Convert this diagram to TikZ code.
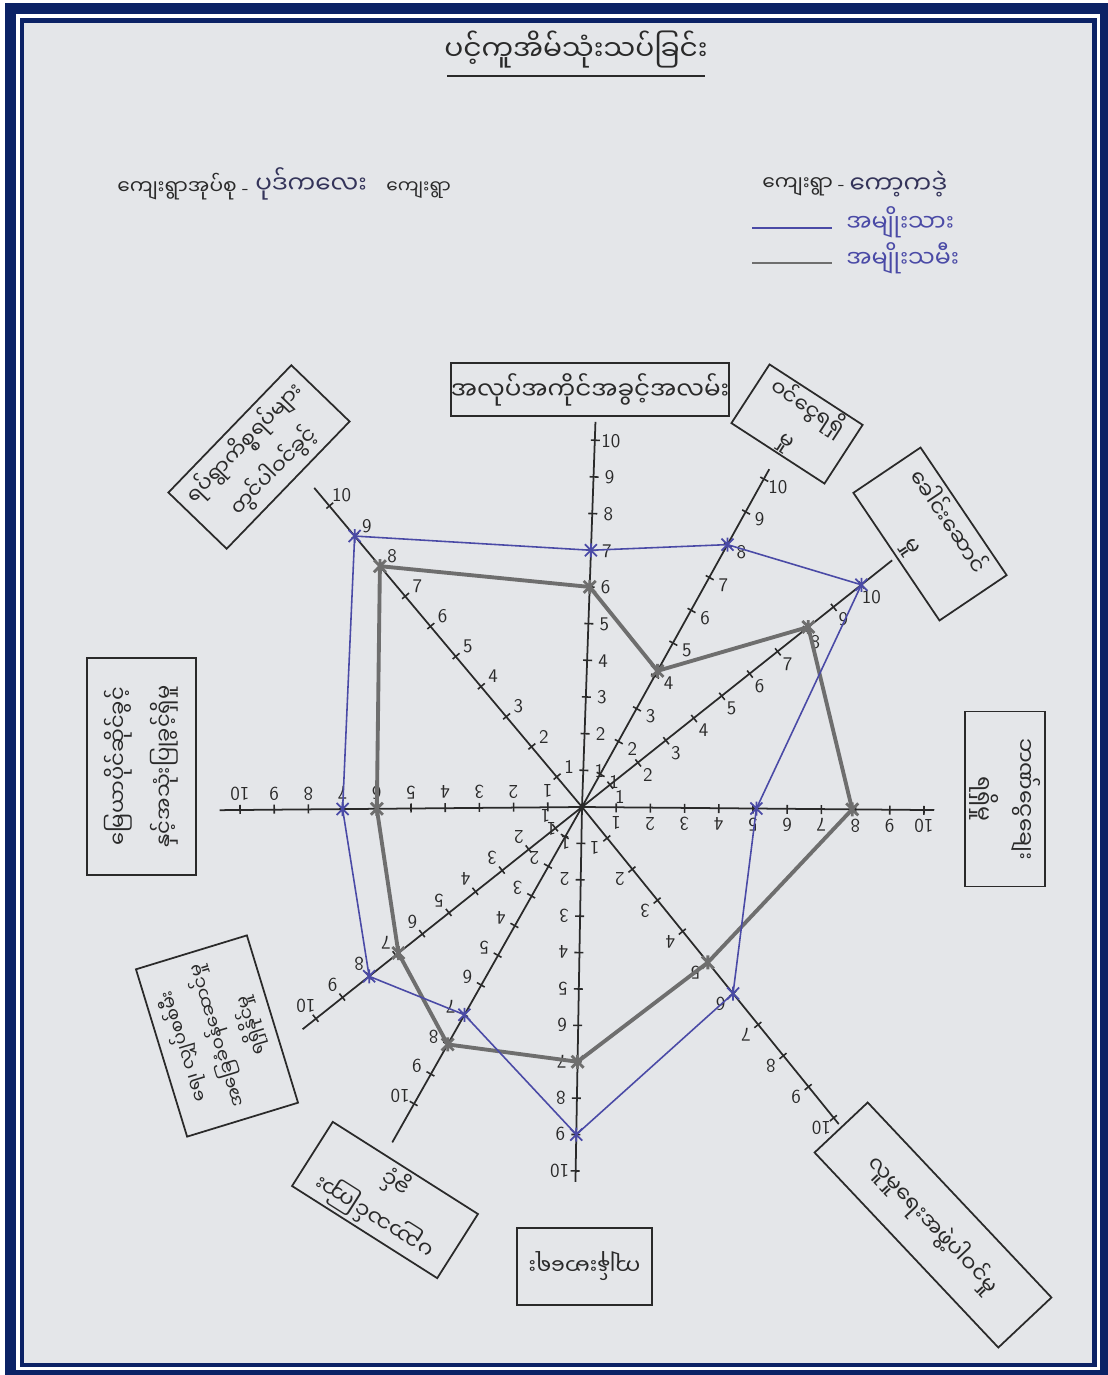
\documentclass[tikz,border=0pt]{standalone}
\usepackage{fontspec}
\newfontfamily\my[Script=Myanmar]{Noto Sans Myanmar UI}
\usetikzlibrary{calc}
\definecolor{navy}{HTML}{0B2265}
\definecolor{paper}{HTML}{E4E6E9}
\definecolor{penblue}{HTML}{4A4AA6}
\definecolor{pengray}{HTML}{6E6E6E}
\definecolor{ink}{HTML}{2A2A2A}
\definecolor{hand}{HTML}{34345A}
\begin{document}
\begin{tikzpicture}[x=0.02cm,y=0.02cm,
  axis/.style={draw=ink,line width=1pt},
  tickmark/.style={draw=ink,line width=0.9pt},
  num/.style={font=\sffamily\fontsize{11}{11}\selectfont,text=ink,inner sep=0pt},
  bline/.style={draw=penblue,line width=0.9pt,line join=round},
  gline/.style={draw=pengray,line width=2.2pt,line join=round},
  lbox/.style={draw=ink,line width=1pt,align=center,font=\my\fontsize{12.5}{24}\selectfont,text=ink,inner sep=0pt},
  hdr/.style={anchor=west,font=\my\fontsize{11.5}{14}\selectfont,text=ink,inner sep=0pt},
  hw/.style={anchor=west,font=\my\fontsize{14}{18}\selectfont,text=hand,inner sep=0pt},
  mk/.pic={\draw[pic actions] (-6,-6)--(6,6) (-6,6)--(6,-6) (0,-7)--(0,7);}
]
\useasboundingbox (0,0) rectangle (1108,-1375);
% frame
\fill[white] (0,0) rectangle (1108,-1375);
\fill[navy] (5,-3) rectangle (1108,-1375);
\fill[white] (16,-14) rectangle (1100,-1370);
\fill[navy] (20,-18) rectangle (1097,-1367);
\fill[paper] (24,-23) rectangle (1092,-1363);

% title and headers
\node[font=\my\fontsize{16}{20}\selectfont,text=ink,inner sep=0pt] (title) at (576,-50) {ပင့်ကူအိမ်သုံးသပ်ခြင်း};
\draw[ink,line width=1.2pt] (447,-76) -- (705,-76);
\node[hdr] (hl) at (117,-187) {ကျေးရွာအုပ်စု {\sffamily -}};
\node[hw] (hlv) at ($(hl.east)+(6,3)$) {ပုဒ်ကလေး};
\node[hdr,font=\my\fontsize{10.5}{13}\selectfont] (hlk) at (386,-190) {ကျေးရွာ};
\node[hdr] (hr) at (762,-187) {ကျေးရွာ {\sffamily -}};
\node[hw] (hrv) at ($(hr.east)+(4,3)$) {ကော့ကဒဲ့};
% legend
\coordinate (la1) at (752,-228); \coordinate (lb1) at (832,-228);
\coordinate (la2) at (752,-263); \coordinate (lb2) at (832,-263);
\draw[penblue,line width=1pt] (la1) -- (lb1);
\draw[pengray,line width=1.4pt] (la2) -- (lb2);
\node[hw,text=penblue,font=\my\fontsize{13.5}{16}\selectfont] (lg1) at (846,-222) {အမျိုးသား};
\node[hw,text=penblue,font=\my\fontsize{13.5}{16}\selectfont] (lg2) at (846,-258) {အမျိုးသမီး};

% axes
\coordinate (C) at (582,-807);
\foreach \n/\a/\u/\e/\r/\vb/\vg in {
  1/88/36.7/10.5/0/7/6,
  2/61/37.5/10.3/0/8/4.15,
  3/38.5/35.7/11.1/0/10/8.1,
  4/-0.5/34.2/10.3/180/5.1/7.9,
  5/-51/40/10.2/180/6/5,
  6/-91/36.4/10.3/180/9/7,
  7/240.5/34.1/11.3/180/7/8,
  8/218.5/34/10.5/180/8/6.9,
  9/180.5/34.2/10.6/180/7/6,
  10/130/39.3/10.6/0/9/8}{
  \draw[axis] (C) -- ($(C)+(\a:{\e*\u})$) coordinate (end\n);
  \foreach \k in {1,...,10}{
    \draw[tickmark] ($(C)+(\a:{\k*\u})+({\a+90}:4)$) -- ($(C)+(\a:{\k*\u})+({\a-90}:5)$);
    \node[num,rotate=\r] (t\n-\k) at ($(C)+(\a:{\k*\u})+({\a-90}:16)$) {\k};
  }
  \coordinate (b\n) at ($(C)+(\a:{\vb*\u})$);
  \coordinate (g\n) at ($(C)+(\a:{\vg*\u})$);
}

% data polygons
\draw[gline] (g1) -- (g2) -- (g3) -- (g4) -- (g5) -- (g6) -- (g7) -- (g8) -- (g9) -- (g10) -- cycle;
\draw[bline] (b1) -- (b2) -- (b3) -- (b4) -- (b5) -- (b6) -- (b7) -- (b8) -- (b9) -- (b10) -- cycle;
\foreach \n in {1,...,10}{
  \pic[draw=pengray,line width=1.6pt] at (g\n) {mk};
  \pic[draw=penblue,line width=1pt] at (b\n) {mk};
}

% label boxes
\node[lbox,font=\my\fontsize{14}{20}\selectfont,minimum width=5.32cm,minimum height=1.06cm] (x1) at (590,-389.5) {အလုပ်အကိုင်အခွင့်အလမ်း};
\node[lbox,rotate=46,minimum width=3.54cm,minimum height=1.62cm,font=\my\fontsize{12}{23}\selectfont] (x10) at (259,-457) {ရပ်ရွာကိစ္စရပ်များ\\တွင်ပါဝင်ခွင့်};
\node[lbox,rotate=-33,minimum width=2.22cm,minimum height=1.4cm,font=\my\fontsize{12}{22}\selectfont] (x2) at (797,-424) {ဝင်ငွေရရှိ\\မှု};
\node[lbox,rotate=-56,minimum width=3.08cm,minimum height=1.62cm] (x3) at (930,-534) {ခေါင်းဆောင်\\မှု};
\node[lbox,rotate=-90,minimum width=3.5cm,minimum height=1.6cm] (x4) at (1005,-799) {ဘဏ်ငွေချေး\\ရရှိမှု};
\node[lbox,rotate=-46.7,minimum width=5.36cm,minimum height=1.46cm,font=\my\fontsize{12.5}{20}\selectfont] (x5) at (933,-1225) {လူမှုရေးအဖွဲ့ပါဝင်မှု};
\node[lbox,rotate=180,minimum width=2.7cm,minimum height=1.54cm] (x6) at (584.5,-1266.5) {ကျန်းမာရေး};
\node[lbox,rotate=147.6,minimum width=3.44cm,minimum height=1.52cm,font=\my\fontsize{12.5}{23}\selectfont] (x7) at (385,-1200) {ပညာသင်ကြား\\ခွင့်};
\node[lbox,rotate=107,minimum width=3.5cm,minimum height=2.32cm,font=\my\fontsize{10.5}{20}\selectfont] (x8) at (217,-1036) {ရေ၊ လျှပ်စစ်မီး\\အခြေခံဝန်ဆောင်မှု\\ရရှိနိုင်မှု};
\node[lbox,rotate=90,minimum width=4.34cm,minimum height=2.18cm,font=\my\fontsize{12}{26}\selectfont] (x9) at (141.5,-766.5) {မြေယာပိုင်ဆိုင်ခွင့်\\နှင့်အသုံးပြုခွင့်ရှိမှု};
\end{tikzpicture}
\end{document}
